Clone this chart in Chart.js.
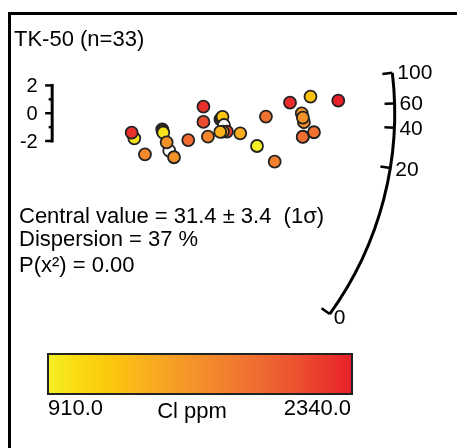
<!DOCTYPE html>
<html>
<head>
<meta charset="utf-8">
<script src="https://cdn.jsdelivr.net/npm/chart.js@4"></script>
<style>
html,body{margin:0;padding:0;background:#fff}
#wrap{width:457px;height:448px;position:relative}
</style>
</head>
<body>
<div id="wrap"><canvas id="c"></canvas></div>
<script>
// radial plot of single grain estimates, coloured by Cl content

// x = precision (1/sigma), y = standardised estimate, cl = Cl ppm (null = not measured)
const precision = [1.055, 1.021, 1.192, 1.414, 1.42, 1.427, 1.504, 1.471, 1.565, 1.748, 1.943,
  1.943, 2.001, 2.162, 2.175, 2.188, 2.207, 2.245, 2.194, 2.159, 2.416, 2.631, 2.746, 2.858,
  3.055, 3.318, 3.234, 3.206, 3.22, 3.363, 3.221, 3.218, 3.675];
const zscore = [-1.81, -1.40, -2.96, -1.16, -1.28, -1.40, -2.70, -2.10, -3.17, -1.93, 0.47,
  -0.63, -1.69, -0.45, -0.35, -0.26, -0.85, -1.32, -1.33, -1.35, -1.45, -2.36, -0.24, -3.49,
  0.76, 1.20, -0.65, -0.01, -0.32, -1.37, -1.68, -1.71, 0.90];
const clPpm = [1000, 2250, 1680, 1350, 1500, 980, null, 1620, 1600, 1900, 2260,
  2100, 1700, null, 1550, 1220, null, 2150, 1500, 1350, 1380, 910, 1850, 1750,
  2280, 1230, 1650, 1550, 1600, 1850, 1800, 1880, 2340];

const arcTicks = [0, 20, 40, 60, 100];
const zTicks = [-2, -1, 0, 1, 2];
const zLabels = [-2, 0, 2];
const radialCentre = 51;   // value on the horizontal through the origin
const logOffset = 0.9;     // t(z) = ln(z + offset)
const arcRadius = 4.4;     // in precision units

const title = 'TK-50 (n=33)';
const stats = ['Central value = 31.4 \u00b1 3.4  (1\u03c3)', 'Dispersion = 37 %', 'P(x\u00b2) = 0.00'];
const clLabel = 'Cl ppm';

// yellow -> red palette
const palette = [
  [0.00, [245, 240, 38]], [0.08, [249, 222, 20]], [0.20, [252, 200, 12]],
  [0.35, [248, 170, 34]], [0.50, [244, 143, 42]], [0.65, [240, 116, 48]],
  [0.80, [236, 85, 48]], [1.00, [232, 32, 42]]
];

const clVals = clPpm.filter(v => v != null);
const clMin = Math.min(...clVals), clMax = Math.max(...clVals);

function colourAt(f){
  f = Math.max(0, Math.min(1, f));
  for(let i = 1; i < palette.length; i++){
    if(f <= palette[i][0]){
      const [f0, c0] = palette[i-1], [f1, c1] = palette[i];
      const u = (f - f0) / (f1 - f0);
      const c = c0.map((v, k) => Math.round(v + u * (c1[k] - v)));
      return `rgb(${c[0]},${c[1]},${c[2]})`;
    }
  }
  return 'rgb(232,32,42)';
}
const clColour = v => v == null ? '#ffffff' : colourAt((v - clMin) / (clMax - clMin));

const tr = z => Math.log(z + logOffset);
const FONT = '"Liberation Sans", Arial, sans-serif';

const decor = {
  id: 'decor',
  beforeDatasetsDraw(chart){
    const ctx = chart.ctx, xs = chart.scales.x, ys = chart.scales.y;
    const ox = xs.getPixelForValue(0), oy = ys.getPixelForValue(0);
    const ratio = (oy - ys.getPixelForValue(1)) / (xs.getPixelForValue(1) - ox);
    const R = xs.getPixelForValue(arcRadius) - ox;
    const ang = z => Math.atan(ratio * (tr(z) - tr(radialCentre)));

    ctx.save();
    ctx.strokeStyle = '#000';
    ctx.fillStyle = '#000';
    ctx.lineCap = 'butt';

    // frame
    ctx.lineWidth = 3;
    ctx.beginPath();
    ctx.moveTo(8, 13.5); ctx.lineTo(457, 13.5);
    ctx.moveTo(9.5, 12); ctx.lineTo(9.5, 448);
    ctx.stroke();

    // arc with ticks
    const a0 = ang(arcTicks[0]), a1 = ang(arcTicks[arcTicks.length - 1]);
    ctx.lineWidth = 3;
    ctx.beginPath();
    ctx.arc(ox, oy, R, -a1, -a0, false);
    ctx.stroke();
    ctx.lineWidth = 2.5;
    ctx.font = '21px ' + FONT;
    ctx.textAlign = 'left';
    ctx.textBaseline = 'middle';
    arcTicks.forEach(z => {
      const a = ang(z), c = Math.cos(a), s = Math.sin(a);
      ctx.beginPath();
      ctx.moveTo(ox + R * c, oy - R * s);
      ctx.lineTo(ox + (R - 10) * c, oy - (R - 10) * s);
      ctx.stroke();
      ctx.fillText(String(z), ox + (R + 5) * c, oy - (R + 5) * s + 1);
    });

    // +-2 sigma bar
    const yTop = ys.getPixelForValue(2), yBot = ys.getPixelForValue(-2);
    ctx.lineWidth = 3;
    ctx.beginPath();
    ctx.moveTo(ox, yTop - 1.5); ctx.lineTo(ox, yBot + 1.5);
    ctx.stroke();
    ctx.lineWidth = 2.5;
    zTicks.forEach(v => {
      const py = ys.getPixelForValue(v);
      const len = zLabels.includes(v) ? 7 : 3.5;
      ctx.beginPath();
      ctx.moveTo(ox, py); ctx.lineTo(ox - len, py);
      ctx.stroke();
    });
    ctx.font = '20px ' + FONT;
    ctx.textAlign = 'right';
    zLabels.forEach(v => ctx.fillText(String(v), ox - 14.5, ys.getPixelForValue(v) + 1));

    // title and summary
    ctx.textAlign = 'left';
    ctx.textBaseline = 'alphabetic';
    ctx.font = '22px ' + FONT;
    ctx.fillText(title, 14, 46);
    const base = [223, 245.5, 272];
    stats.forEach((s, i) => ctx.fillText(s, 19, base[i]));

    // colour bar
    const bx = 48, by = 354, bw = 304, bh = 40;
    const g = ctx.createLinearGradient(bx, 0, bx + bw, 0);
    palette.forEach(([f]) => g.addColorStop(f, colourAt(f)));
    ctx.fillStyle = g;
    ctx.fillRect(bx, by, bw, bh);
    ctx.lineWidth = 2;
    ctx.strokeStyle = '#222';
    ctx.strokeRect(bx, by, bw, bh);
    ctx.fillStyle = '#000';
    ctx.fillText(clMin.toFixed(1), bx, 415);
    ctx.textAlign = 'right';
    ctx.fillText(clMax.toFixed(1), bx + bw - 1, 415);
    ctx.textAlign = 'center';
    ctx.fillText(clLabel, 192, 418);
    ctx.restore();
  }
};

const points = precision.map((x, i) => ({x, y: zscore[i]}));

new Chart(document.getElementById('c'), {
  type: 'scatter',
  data: {
    datasets: [{
      data: points,
      backgroundColor: clPpm.map(clColour),
      borderColor: '#222',
      borderWidth: 1.8,
      pointRadius: 6,
      pointHoverRadius: 6
    }]
  },
  options: {
    responsive: true,
    maintainAspectRatio: false,
    animation: false,
    layout: {padding: 0, autoPadding: false},
    plugins: {legend: {display: false}, tooltip: {enabled: false}},
    scales: {
      x: {type: 'linear', display: false, min: -0.67, max: 5.2},
      y: {type: 'linear', display: false, min: -24.1, max: 8.15}
    }
  },
  plugins: [decor]
});
</script>
</body>
</html>
